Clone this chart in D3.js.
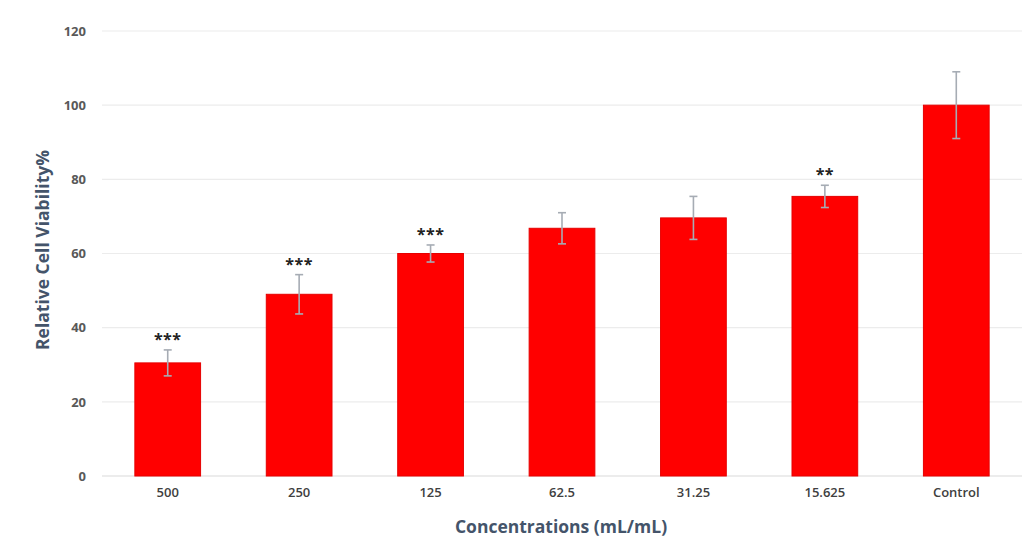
<!DOCTYPE html>
<html><head><meta charset="utf-8">
<script src="https://cdn.jsdelivr.net/npm/d3@7"></script>
<style>body{margin:0;background:#fff;}svg{display:block;}</style>
</head><body>
<svg id="chart" width="1028" height="556"></svg>
<script>
const categories = ["500","250","125","62.5","31.25","15.625","Control"];
const values = [30.5, 49, 60, 66.8, 69.6, 75.4, 100];
const errors = [3.5, 5.3, 2.3, 4.2, 5.8, 3.0, 9.0];
const significance = ["***","***","***","","","**",""];
const yTicks = [0,20,40,60,80,100,120];

const svg = d3.select("#chart");
const margin = {left:102, right:6, top:31, bottom:80};
const W = 1028, H = 556;
const x = d3.scaleBand().domain(categories).range([margin.left, W - margin.right]).paddingInner(0.5).paddingOuter(0.25);
const y = d3.scaleLinear().domain([0,120]).range([476, 31]);
const font = "'Open Sans', 'Liberation Sans', sans-serif";

// gridlines
svg.append("g").selectAll("line").data(yTicks).join("line")
  .attr("x1", margin.left).attr("x2", W - margin.right)
  .attr("y1", d => y(d)).attr("y2", d => y(d))
  .attr("stroke", d => d === 0 ? "#d9d9d9" : "#ececec").attr("stroke-width", 1.2);

// y axis labels
const yAxis = d3.axisLeft(y).tickValues(yTicks).tickSize(0).tickPadding(0);
const gy = svg.append("g").attr("transform", `translate(86,0)`).call(yAxis);
gy.select(".domain").remove();
gy.selectAll("text").attr("font-family", font).attr("font-size", 13).attr("font-weight", "bold").attr("fill", "#595959");

// x axis labels
const xAxis = d3.axisBottom(x).tickSize(0).tickPadding(0);
const gx = svg.append("g").attr("transform", `translate(0,488)`).call(xAxis);
gx.select(".domain").remove();
gx.selectAll("text").attr("font-family", font).attr("font-size", 13).attr("fill", "#404040").attr("font-weight", "600");

// bars
svg.append("g").selectAll("rect").data(values).join("rect")
  .attr("x", (d,i) => x(categories[i])).attr("width", x.bandwidth())
  .attr("y", d => y(d)).attr("height", d => y(0) - y(d))
  .attr("fill", "#ff0000").attr("stroke", "#e60000").attr("stroke-width", 1);

// error bars
const eg = svg.append("g").attr("stroke", "#a6acb4").attr("stroke-width", 1.6);
values.forEach((v,i) => {
  const cx = x(categories[i]) + x.bandwidth()/2;
  eg.append("line").attr("x1", cx).attr("x2", cx).attr("y1", y(v + errors[i])).attr("y2", y(v - errors[i]));
  eg.append("line").attr("x1", cx-4).attr("x2", cx+4).attr("y1", y(v + errors[i])).attr("y2", y(v + errors[i]));
  eg.append("line").attr("x1", cx-4).attr("x2", cx+4).attr("y1", y(v - errors[i])).attr("y2", y(v - errors[i]));
});

// significance
svg.append("g").selectAll("text").data(significance).join("text")
  .attr("x", (d,i) => x(categories[i]) + x.bandwidth()/2)
  .attr("y", (d,i) => y(values[i] + errors[i]) - 5)
  .attr("text-anchor", "middle").attr("font-family", font).attr("font-size", 16).attr("font-weight", "bold")
  .attr("fill", "#222").attr("letter-spacing", 0.5)
  .text(d => d);

// axis titles
svg.append("text").attr("transform", "translate(49,250) rotate(-90)")
  .attr("text-anchor", "middle").attr("font-family", font).attr("font-size", 17.5).attr("font-weight", "bold")
  .attr("fill", "#44546a").text("Relative Cell Viability%");
svg.append("text").attr("x", 561).attr("y", 533)
  .attr("text-anchor", "middle").attr("font-family", font).attr("font-size", 17.5).attr("font-weight", "bold")
  .attr("fill", "#44546a").text("Concentrations (mL/mL)");
</script>
</body></html>
